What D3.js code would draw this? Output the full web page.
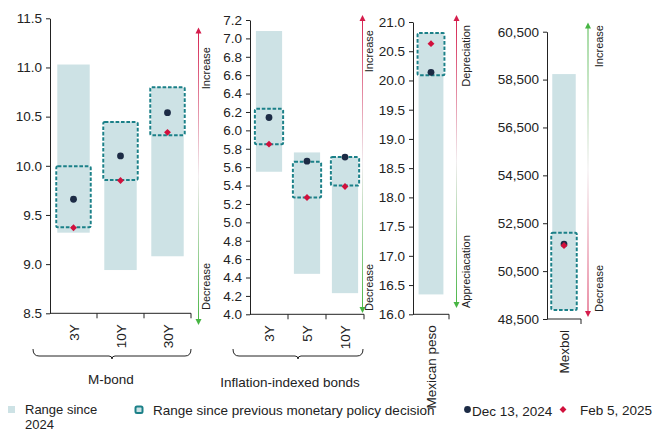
<!DOCTYPE html>
<html lang="en">
<head>
    <meta charset="UTF-8">
    <title>Market ranges</title>
    <script src="https://d3js.org/d3.v7.min.js"></script>
    <style>
        body { margin: 0; background: #fff; }
        svg { font-family: "Liberation Sans", Arial, sans-serif; }
        .tick text { font-size: 13.5px; fill: #222; }
        .tick line, .domain { stroke: #222; }
    </style>
</head>
<body>
    <div id="chart"></div>
    <script>
        const width = 657;
        const height = 432;

        // M-bond
        const mbondCats = ["3Y", "10Y", "30Y"];
        const mbondRangeLow = [9.32, 8.94, 9.08];
        const mbondRangeHigh = [11.03, 10.45, 10.80];
        const mbondBoxLow = [9.375, 9.855, 10.31];
        const mbondBoxHigh = [9.995, 10.445, 10.80];
        const mbondDec = [9.66, 10.10, 10.54];
        const mbondFeb = [9.37, 9.85, 10.34];
        const mbondTicks = [8.5, 9.0, 9.5, 10.0, 10.5, 11.0, 11.5];

        // Inflation-indexed bonds
        const udiCats = ["3Y", "5Y", "10Y"];
        const udiRangeLow = [5.55, 4.44, 4.23];
        const udiRangeHigh = [7.08, 5.76, 5.71];
        const udiBoxLow = [5.85, 5.27, 5.40];
        const udiBoxHigh = [6.235, 5.66, 5.71];
        const udiDec = [6.14, 5.665, 5.71];
        const udiFeb = [5.85, 5.27, 5.39];
        const udiTicks = [4.0, 4.2, 4.4, 4.6, 4.8, 5.0, 5.2, 5.4, 5.6, 5.8, 6.0, 6.2, 6.4, 6.6, 6.8, 7.0, 7.2];

        // Mexican peso
        const pesoCats = ["Mexican peso"];
        const pesoRangeLow = [16.34];
        const pesoRangeHigh = [20.81];
        const pesoBoxLow = [20.09];
        const pesoBoxHigh = [20.81];
        const pesoDec = [20.14];
        const pesoFeb = [20.63];
        const pesoTicks = [16.0, 16.5, 17.0, 17.5, 18.0, 18.5, 19.0, 19.5, 20.0, 20.5, 21.0];

        // Mexbol
        const mexbolCats = ["Mexbol"];
        const mexbolRangeLow = [48880];
        const mexbolRangeHigh = [58730];
        const mexbolBoxLow = [48880];
        const mexbolBoxHigh = [52100];
        const mexbolDec = [51630];
        const mexbolFeb = [51570];
        const mexbolTicks = [48500, 50500, 52500, 54500, 56500, 58500, 60500];

        const colRange = "#cde2e5";
        const colBox = "#1b8088";
        const colDec = "#1c2b45";
        const colFeb = "#d1103c";
        const colUp = "#d51d4c";
        const colDown = "#47b543";

        const svg = d3.select("#chart")
            .append("svg")
            .attr("width", width)
            .attr("height", height);

        const defs = svg.append("defs");

        function drawPanel(p) {
            const x = d3.scaleBand()
                .domain(p.cats)
                .range([p.left, p.right])
                .paddingInner(0.31)
                .paddingOuter(0.155);
            const y = d3.scaleLinear()
                .domain([p.ticks[0], p.ticks[p.ticks.length - 1]])
                .range([p.bottom, p.top]);

            const g = svg.append("g");
            const pad = 1; // box is a touch wider than the range bar

            // range since 2024
            g.selectAll(".range")
                .data(p.cats)
                .enter()
                .append("rect")
                .attr("x", d => x(d))
                .attr("width", x.bandwidth())
                .attr("y", (d, i) => y(p.high[i]))
                .attr("height", (d, i) => y(p.low[i]) - y(p.high[i]))
                .attr("fill", colRange);

            // range since previous decision
            g.selectAll(".box")
                .data(p.cats)
                .enter()
                .append("rect")
                .attr("x", d => x(d) - pad)
                .attr("width", x.bandwidth() + pad * 2)
                .attr("y", (d, i) => y(p.boxHigh[i]))
                .attr("height", (d, i) => y(p.boxLow[i]) - y(p.boxHigh[i]))
                .attr("rx", 1.5)
                .attr("fill", "none")
                .attr("stroke", colBox)
                .attr("stroke-width", 2)
                .attr("stroke-dasharray", "3.6,1.8");

            // Dec 13 points
            g.selectAll(".dec")
                .data(p.cats)
                .enter()
                .append("circle")
                .attr("cx", d => x(d) + x.bandwidth() / 2)
                .attr("cy", (d, i) => y(p.dec[i]))
                .attr("r", 3.4)
                .attr("fill", colDec);

            // Feb 5 points
            g.selectAll(".feb")
                .data(p.cats)
                .enter()
                .append("path")
                .attr("d", d3.symbol(d3.symbolDiamond2, 30))
                .attr("transform", (d, i) => `translate(${x(d) + x.bandwidth() / 2},${y(p.feb[i])})`)
                .attr("fill", colFeb);

            // y axis
            g.append("g")
                .attr("transform", `translate(${p.left},0)`)
                .call(d3.axisLeft(y)
                    .tickValues(p.ticks)
                    .tickFormat(d3.format(p.fmt))
                    .tickSize(4)
                    .tickSizeOuter(0)
                    .tickPadding(4));

            // x axis: baseline with ticks between categories
            g.append("line")
                .attr("x1", p.left).attr("x2", p.right)
                .attr("y1", p.bottom).attr("y2", p.bottom)
                .attr("stroke", "#222");
            g.selectAll(".xtick")
                .data(p.cats)
                .enter()
                .append("line")
                .attr("x1", (d, i) => p.left + x.step() * (i + 1))
                .attr("x2", (d, i) => p.left + x.step() * (i + 1))
                .attr("y1", p.bottom)
                .attr("y2", p.bottom + 5)
                .attr("stroke", "#222");

            g.selectAll(".xlabel")
                .data(p.cats)
                .enter()
                .append("text")
                .attr("transform", d => `translate(${x(d) + x.bandwidth() / 2 + 5},${p.bottom + 11}) rotate(-90)`)
                .attr("text-anchor", "end")
                .attr("font-size", "13.5px")
                .attr("fill", "#222")
                .text(d => d);

            // direction arrow
            const a = p.arrow;
            const gid = "grad" + p.id;
            const grad = defs.append("linearGradient")
                .attr("id", gid)
                .attr("gradientUnits", "userSpaceOnUse")
                .attr("x1", 0).attr("x2", 0)
                .attr("y1", a.top).attr("y2", a.bottom);
            grad.append("stop").attr("offset", 0).attr("stop-color", a.topCol);
            grad.append("stop").attr("offset", 0.5).attr("stop-color", "#f2eef0");
            grad.append("stop").attr("offset", 1).attr("stop-color", a.botCol);

            g.append("rect")
                .attr("x", a.x - 0.5)
                .attr("width", 1)
                .attr("y", a.top + 5)
                .attr("height", a.bottom - a.top - 10)
                .attr("fill", `url(#${gid})`);
            g.append("path")
                .attr("d", `M${a.x},${a.top} L${a.x - 3},${a.top + 6} L${a.x + 3},${a.top + 6} Z`)
                .attr("fill", a.topCol);
            g.append("path")
                .attr("d", `M${a.x},${a.bottom} L${a.x - 3},${a.bottom - 6} L${a.x + 3},${a.bottom - 6} Z`)
                .attr("fill", a.botCol);

            g.append("text")
                .attr("transform", `translate(${a.tx},${a.topY}) rotate(-90)`)
                .attr("text-anchor", "end")
                .attr("font-size", "11px")
                .attr("fill", "#222")
                .text(a.topLabel);
            g.append("text")
                .attr("transform", `translate(${a.tx},${a.botY}) rotate(-90)`)
                .attr("text-anchor", "start")
                .attr("font-size", "11px")
                .attr("fill", "#222")
                .text(a.botLabel);
        }

        drawPanel({
            id: 1, cats: mbondCats, low: mbondRangeLow, high: mbondRangeHigh,
            boxLow: mbondBoxLow, boxHigh: mbondBoxHigh, dec: mbondDec, feb: mbondFeb,
            ticks: mbondTicks, fmt: ".1f", left: 50, right: 191, top: 18.3, bottom: 313.3,
            arrow: { x: 198.5, top: 27.5, bottom: 325, topCol: colUp, botCol: colDown,
                tx: 209.5, topY: 47, botY: 310, topLabel: "Increase", botLabel: "Decrease" }
        });

        drawPanel({
            id: 2, cats: udiCats, low: udiRangeLow, high: udiRangeHigh,
            boxLow: udiBoxLow, boxHigh: udiBoxHigh, dec: udiDec, feb: udiFeb,
            ticks: udiTicks, fmt: ".1f", left: 250, right: 364, top: 20, bottom: 314.3,
            arrow: { x: 362.5, top: 15, bottom: 313, topCol: colUp, botCol: colDown,
                tx: 372.5, topY: 30, botY: 311, topLabel: "Increase", botLabel: "Decrease" }
        });

        drawPanel({
            id: 3, cats: pesoCats, low: pesoRangeLow, high: pesoRangeHigh,
            boxLow: pesoBoxLow, boxHigh: pesoBoxHigh, dec: pesoDec, feb: pesoFeb,
            ticks: pesoTicks, fmt: ".1f", left: 413, right: 449, top: 22, bottom: 314.3,
            arrow: { x: 456.5, top: 15, bottom: 308, topCol: colUp, botCol: colDown,
                tx: 470, topY: 25, botY: 308, topLabel: "Depreciation", botLabel: "Appreciacation" }
        });

        drawPanel({
            id: 4, cats: mexbolCats, low: mexbolRangeLow, high: mexbolRangeHigh,
            boxLow: mexbolBoxLow, boxHigh: mexbolBoxHigh, dec: mexbolDec, feb: mexbolFeb,
            ticks: mexbolTicks, fmt: ",", left: 547, right: 581, top: 31.7, bottom: 319,
            arrow: { x: 588, top: 22.5, bottom: 317, topCol: colDown, botCol: colUp,
                tx: 603, topY: 25, botY: 312, topLabel: "Increase", botLabel: "Decrease" }
        });

        // group braces under the bond panels
        function brace(x1, x2, yTop, label, labelX, labelY) {
            const mid = (x1 + x2) / 2;
            const h = 7;
            const r = 3;
            svg.append("path")
                .attr("d", `M${x1},${yTop} Q${x1},${yTop + h} ${x1 + r * 2},${yTop + h}` +
                    ` L${mid - r},${yTop + h} Q${mid},${yTop + h} ${mid},${yTop + h + 3}` +
                    ` Q${mid},${yTop + h} ${mid + r},${yTop + h}` +
                    ` L${x2 - r * 2},${yTop + h} Q${x2},${yTop + h} ${x2},${yTop}`)
                .attr("fill", "none")
                .attr("stroke", "#222")
                .attr("stroke-width", 1);
            svg.append("text")
                .attr("x", labelX)
                .attr("y", labelY)
                .attr("text-anchor", "middle")
                .attr("font-size", "13.5px")
                .attr("fill", "#222")
                .text(label);
        }
        brace(33, 191, 349, "M-bond", 111, 384);
        brace(233, 363, 349, "Inflation-indexed bonds", 290, 387);

        // legend
        const legend = svg.append("g").attr("font-size", "13.5px").attr("fill", "#222");
        legend.append("rect").attr("x", 8).attr("y", 406).attr("width", 7).attr("height", 7).attr("fill", colRange);
        legend.append("text").attr("x", 25).attr("y", 414).attr("font-size", "13px").text("Range since");
        legend.append("text").attr("x", 25).attr("y", 429).attr("font-size", "13px").text("2024");
        legend.append("rect").attr("x", 135.5).attr("y", 406.5).attr("width", 7).attr("height", 6.5)
            .attr("rx", 1.5).attr("fill", colRange).attr("stroke", colBox).attr("stroke-width", 2);
        legend.append("text").attr("x", 153).attr("y", 415).text("Range since previous monetary policy decision");
        legend.append("circle").attr("cx", 467.5).attr("cy", 409.5).attr("r", 3.4).attr("fill", colDec);
        legend.append("text").attr("x", 472).attr("y", 416).text("Dec 13, 2024");
        legend.append("path").attr("d", d3.symbol(d3.symbolDiamond2, 30))
            .attr("transform", "translate(563,409.5)").attr("fill", colFeb);
        legend.append("text").attr("x", 580).attr("y", 415).text("Feb 5, 2025");
    </script>
</body>
</html>
